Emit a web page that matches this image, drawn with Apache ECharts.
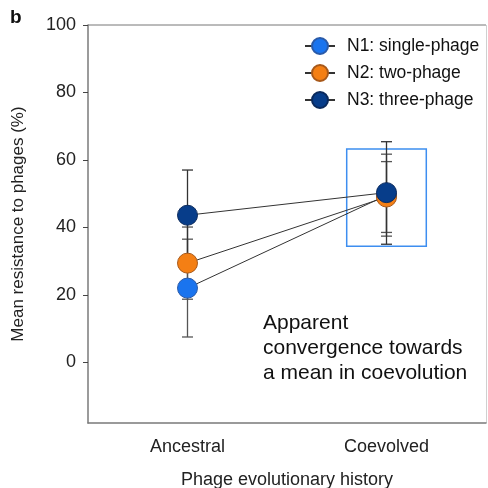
<!DOCTYPE html>
<html>
<head>
<meta charset="utf-8">
<script src="https://cdn.jsdelivr.net/npm/echarts@6/dist/echarts.min.js"></script>
<style>
    html, body { margin: 0; padding: 0; background: #fff; }
    #chart { width: 488px; height: 488px; }
</style>
</head>
<body>
<div id="chart"></div>
<script>
// 数据
var categories = ['Ancestral', 'Coevolved'];
var seriesNames = ['N1: single-phage', 'N2: two-phage', 'N3: three-phage'];
var meanN1 = [22.0, 49.5];
var meanN2 = [29.4, 49.0];
var meanN3 = [43.6, 50.3];
var lowN1 = [7.5, 37.4];
var highN1 = [36.5, 61.7];
var lowN2 = [18.7, 38.5];
var highN2 = [40.1, 59.5];
var lowN3 = [30.2, 35.0];
var highN3 = [57.0, 65.4];
var yTicks = [0, 20, 40, 60, 80, 100];
var boxRange = [34.4, 63.2];   // 蓝框范围 (Coevolved)
var note = 'Apparent\nconvergence towards\na mean in coevolution';

var colors = ['#1a74ee', '#f47f14', '#073d8a'];
var borders = ['#2a5aa8', '#a8591a', '#0b2a5c'];
var fontFamily = 'Liberation Sans, Arial, sans-serif';

var myChart = echarts.init(document.getElementById('chart'));

function errorSeries(idx, low, high) {
    var data = categories.map(function (c, i) {
        return [i, low[i], high[i]];
    });
    return {
        type: 'custom',
        name: seriesNames[idx] + ' err',
        data: data,
        silent: true,
        renderItem: function (params, api) {
            var x = api.value(0);
            var lo = api.coord([x, api.value(1)]);
            var hi = api.coord([x, api.value(2)]);
            var w = 5.5;
            var style = { stroke: idx == 2 ? '#333' : '#555', lineWidth: 1.3 };
            return {
                type: 'group',
                children: [
                    { type: 'line', shape: { x1: lo[0], y1: lo[1], x2: hi[0], y2: hi[1] }, style: style },
                    { type: 'line', shape: { x1: lo[0] - w, y1: lo[1], x2: lo[0] + w, y2: lo[1] }, style: style },
                    { type: 'line', shape: { x1: hi[0] - w, y1: hi[1], x2: hi[0] + w, y2: hi[1] }, style: style }
                ]
            };
        },
        encode: { x: 0, y: [1, 2] }
    };
}

function lineSeries(idx, mean) {
    return {
        type: 'line',
        name: seriesNames[idx],
        data: mean,
        symbol: 'circle',
        symbolSize: 20,
        itemStyle: { color: colors[idx], borderColor: borders[idx], borderWidth: 1 },
        lineStyle: { color: '#333', width: 1 }
    };
}

var option = {
    animation: false,
    grid: { left: 88, right: 2, top: 25, bottom: 65, outerBoundsMode: 'none', containLabel: false },
    legend: {
        data: seriesNames,
        orient: 'vertical',
        left: 299,
        top: 32,
        itemWidth: 30,
        itemHeight: 20,
        itemGap: 9,
        textStyle: { fontFamily: fontFamily, fontSize: 17.5, color: '#111', padding: [0, 0, 0, 7] }
    },
    xAxis: {
        type: 'category',
        data: categories,
        name: 'Phage evolutionary history',
        nameLocation: 'middle',
        nameGap: 48,
        nameTextStyle: { fontFamily: fontFamily, fontSize: 18, color: '#222' },
        axisLine: { onZero: false, lineStyle: { color: '#7a7a7a', width: 1.5 } },
        axisTick: { alignWithLabel: true, length: 5, lineStyle: { color: '#444' } },
        axisLabel: { fontFamily: fontFamily, fontSize: 18, color: '#222', margin: 15 },
        splitLine: { show: false }
    },
    yAxis: {
        type: 'value',
        min: -18,
        max: 100,
        name: 'Mean resistance to phages (%)',
        nameLocation: 'middle',
        nameGap: 61,
        nameTextStyle: { fontFamily: fontFamily, fontSize: 17, color: '#222' },
        axisLine: { show: true, onZero: false, lineStyle: { color: '#7a7a7a', width: 1.5 } },
        axisTick: { show: true, length: 5, customValues: yTicks, lineStyle: { color: '#444' } },
        axisLabel: { fontFamily: fontFamily, fontSize: 18, color: '#222', margin: 12, customValues: yTicks },
        splitLine: { show: false }
    },
    graphic: [
        { type: 'text', left: 10, top: 8, style: { text: 'b', font: 'bold 19px ' + fontFamily, fill: '#111' } },
        { type: 'line', shape: { x1: 88, y1: 25, x2: 486, y2: 25 }, style: { stroke: '#777', lineWidth: 1 } },
        { type: 'line', shape: { x1: 486.5, y1: 25, x2: 486.5, y2: 423 }, style: { stroke: '#d0d0d0', lineWidth: 1 } },
        { type: 'text', left: 263, top: 311, style: { text: note, font: '21px ' + fontFamily, fill: '#111', lineHeight: 25 } }
    ],
    series: [
        {
            type: 'custom',
            name: 'box',
            silent: true,
            data: [[1, boxRange[0], boxRange[1]]],
            renderItem: function (params, api) {
                var lo = api.coord([api.value(0), api.value(1)]);
                var hi = api.coord([api.value(0), api.value(2)]);
                var w = api.size([1, 0])[0] * 0.4;
                return {
                    type: 'rect',
                    shape: { x: lo[0] - w / 2, y: hi[1], width: w, height: lo[1] - hi[1] },
                    style: { fill: 'none', stroke: '#3d8ef0', lineWidth: 1.5 }
                };
            },
            encode: { x: 0, y: [1, 2] }
        },
        errorSeries(0, lowN1, highN1),
        lineSeries(0, meanN1),
        errorSeries(1, lowN2, highN2),
        lineSeries(1, meanN2),
        errorSeries(2, lowN3, highN3),
        lineSeries(2, meanN3)
    ]
};
myChart.setOption(option);
</script>
</body>
</html>
